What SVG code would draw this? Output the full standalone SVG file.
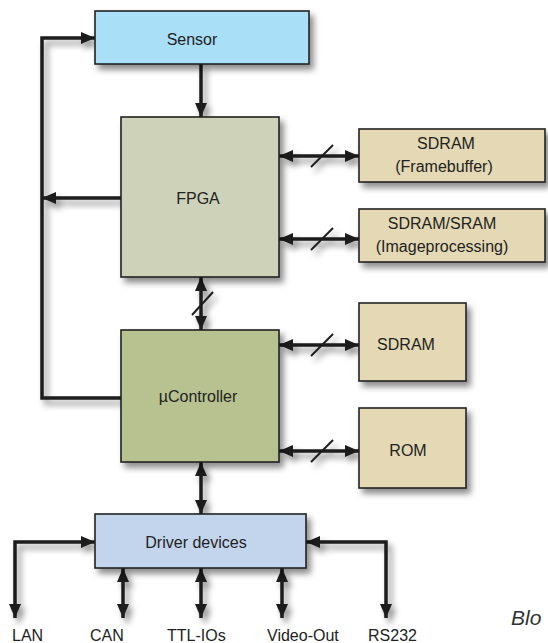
<svg xmlns="http://www.w3.org/2000/svg" width="548" height="643" viewBox="0 0 548 643">
  <defs>
    <filter id="shadow" x="-20%" y="-20%" width="150%" height="150%">
      <feDropShadow dx="4" dy="5" stdDeviation="3" flood-color="#000" flood-opacity="0.45"/>
    </filter>
    <marker id="arrow" viewBox="0 0 14 12" refX="14" refY="6" markerWidth="14" markerHeight="12" markerUnits="userSpaceOnUse" orient="auto-start-reverse">
      <path d="M0,0 L14,6 L0,12 Z" fill="#1e1e1e"/>
    </marker>
  </defs>
  <style>
    .box { stroke: #222; stroke-width: 1.6; filter: url(#shadow); }
    .sensor { fill: #a9e0f7; }
    .fpga { fill: #ced2b9; }
    .uc { fill: #b8c290; }
    .mem { fill: #e4d9b4; }
    .drv { fill: #c3d5ec; }
    .label { font-family: "Liberation Sans", Arial, sans-serif; font-size: 16px; fill: #222; text-anchor: middle; }
    .io { font-family: "Liberation Sans", Arial, sans-serif; font-size: 16px; fill: #222; }
    .wire { fill: none; stroke: #1e1e1e; stroke-width: 3.5; }
    .one { marker-end: url(#arrow); }
    .both { marker-start: url(#arrow); marker-end: url(#arrow); }
    .slash { stroke: #1e1e1e; stroke-width: 2; fill: none; }
    .caption { font-family: "Liberation Sans", Arial, sans-serif; font-size: 21px; font-style: italic; fill: #333; }
  </style>

  <!-- connectors -->
  <g id="connectors" filter="url(#shadow)">
    <path class="wire one" d="M121,398 H42 V38 H95"/>
    <path class="wire one" d="M121,198 H42"/>
    <path class="wire one" d="M201,64 V117"/>
    <path class="wire both" d="M201,277 V330"/>
    <path class="slash" d="M192,315 L213,292"/>
    <path class="wire both" d="M279,156 H359"/>
    <path class="slash" d="M311,167 L333,145"/>
    <path class="wire both" d="M279,239 H359"/>
    <path class="slash" d="M311,250 L333,228"/>
    <path class="wire both" d="M279,345 H359"/>
    <path class="slash" d="M311,356 L333,334"/>
    <path class="wire both" d="M279,451 H359"/>
    <path class="slash" d="M311,462 L333,440"/>
    <path class="wire both" d="M201,462 V514"/>
    <path class="wire both" d="M95,542 H15 V618"/>
    <path class="wire both" d="M123,568 V618"/>
    <path class="wire both" d="M201,568 V618"/>
    <path class="wire both" d="M282,568 V618"/>
    <path class="wire both" d="M306,542 H386 V618"/>
  </g>

  <!-- nodes -->
  <g id="sensor">
    <rect class="box sensor" x="95" y="11" width="214" height="53"/>
    <text class="label" x="192" y="45">Sensor</text>
  </g>
  <g id="fpga">
    <rect class="box fpga" x="121" y="117" width="158" height="160"/>
    <text class="label" x="198" y="204">FPGA</text>
  </g>
  <g id="sdram-framebuffer">
    <rect class="box mem" x="359" y="129" width="186" height="53"/>
    <text class="label" x="446" y="149">SDRAM</text>
    <text class="label" x="444" y="172">(Framebuffer)</text>
  </g>
  <g id="sdram-sram">
    <rect class="box mem" x="359" y="209" width="186" height="53"/>
    <text class="label" x="442" y="229">SDRAM/SRAM</text>
    <text class="label" x="442" y="252">(Imageprocessing)</text>
  </g>
  <g id="ucontroller">
    <rect class="box uc" x="121" y="330" width="158" height="132"/>
    <text class="label" x="198" y="402">µController</text>
  </g>
  <g id="sdram">
    <rect class="box mem" x="359" y="303" width="107" height="78"/>
    <text class="label" x="406" y="350">SDRAM</text>
  </g>
  <g id="rom">
    <rect class="box mem" x="359" y="408" width="107" height="80"/>
    <text class="label" x="408" y="456">ROM</text>
  </g>
  <g id="driver-devices">
    <rect class="box drv" x="95" y="514" width="211" height="54"/>
    <text class="label" x="196" y="548">Driver devices</text>
  </g>

  <!-- interface labels -->
  <g id="interfaces">
    <text class="io" x="12" y="641">LAN</text>
    <text class="io" x="90" y="641">CAN</text>
    <text class="io" x="167" y="641">TTL-IOs</text>
    <text class="io" x="267" y="641">Video-Out</text>
    <text class="io" x="368" y="641">RS232</text>
  </g>

  <text class="caption" x="511" y="625">Blo</text>
</svg>
